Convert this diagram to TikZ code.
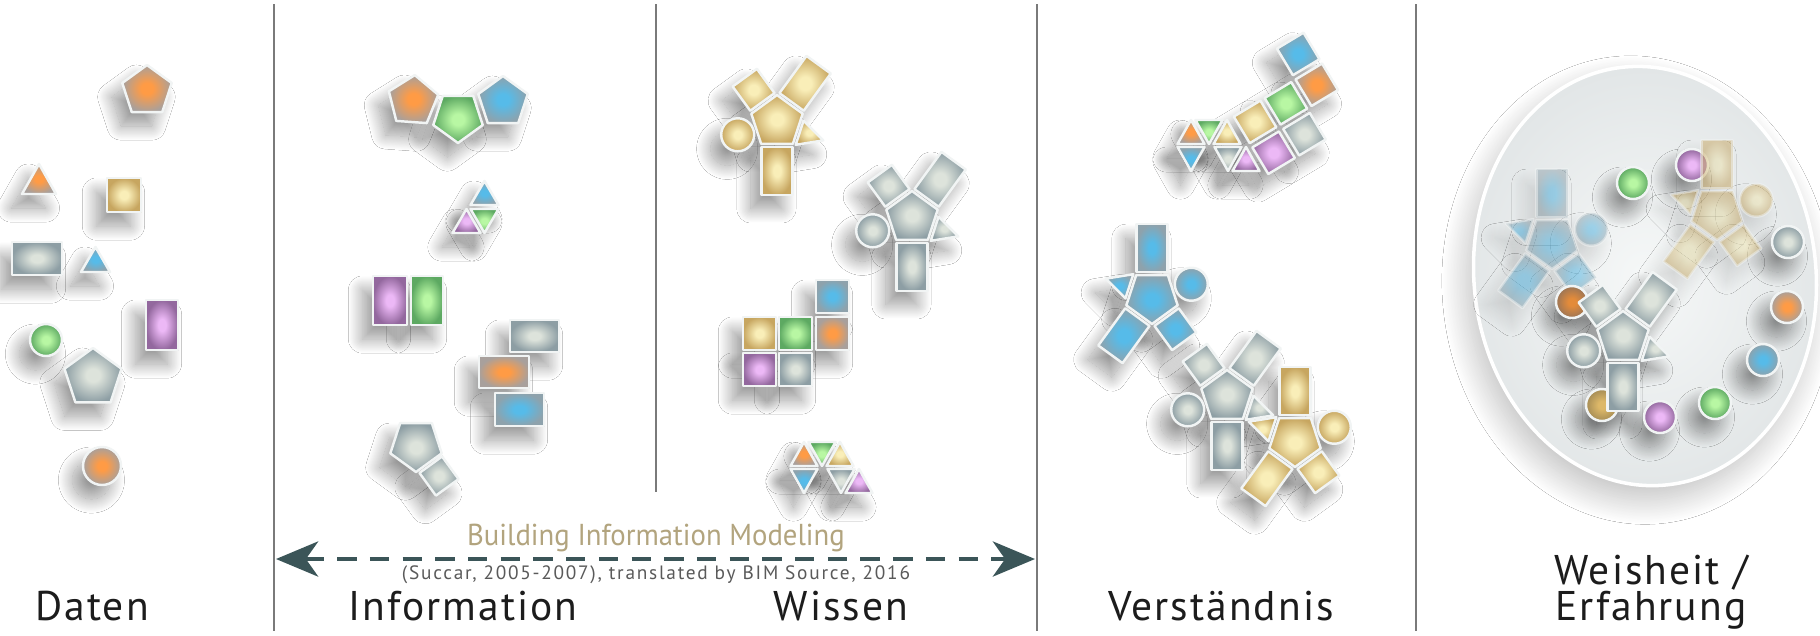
\documentclass[tikz,border=0pt]{standalone}
\usepackage{fontspec}
\usetikzlibrary{shadows.blur,arrows.meta}
\newfontfamily\labfont[LetterSpace=5]{PT Sans}
\newfontfamily\bimfont[FakeStretch=0.95]{PT Sans}
\newfontfamily\capfont[LetterSpace=9]{PT Sans}

% piece colours: centre (In) and rim (Out)
\definecolor{orgIn}{HTML}{FF9B45}\definecolor{orgOut}{HTML}{A8A09C}
\definecolor{bluIn}{HTML}{56BBE9}\definecolor{bluOut}{HTML}{8EA2AC}
\definecolor{grnIn}{HTML}{B8F7A3}\definecolor{grnOut}{HTML}{5DA962}
\definecolor{purIn}{HTML}{ECB8F6}\definecolor{purOut}{HTML}{93689E}
\definecolor{gldIn}{HTML}{F9EEB8}\definecolor{gldOut}{HTML}{C7A660}
\definecolor{gryIn}{HTML}{DDE3DB}\definecolor{gryOut}{HTML}{8D9EA4}
\definecolor{dorIn}{HTML}{E38B3A}\definecolor{dorOut}{HTML}{9B7556}
\definecolor{dgdIn}{HTML}{DDB868}\definecolor{dgdOut}{HTML}{A58C55}
\definecolor{edgeW}{HTML}{F1F4F4}
\definecolor{divider}{HTML}{7A7A7A}
\definecolor{arrowC}{HTML}{3B5558}
\definecolor{bimC}{HTML}{B2A47E}
\definecolor{capC}{HTML}{5A5A5A}
\definecolor{labC}{HTML}{1C1C1C}
\definecolor{plateIn}{HTML}{F6F8F8}
\definecolor{plateOut}{HTML}{E2E6E7}

\colorlet{shIn}{white}\colorlet{shOut}{gray}
\pgfdeclareradialshading[shIn,shOut]{glow}{\pgfpointorigin}{%
  color(0bp)=(shIn); color(6bp)=(shIn); color(25bp)=(shOut); color(50bp)=(shOut)}

\def\shop{40}
\tikzset{
  glow/.style={/utils/exec={\colorlet{shIn}{#1In}\colorlet{shOut}{#1Out}}, shade, shading=glow},
  shadowpass/.style={
    pc/.style={blur shadow={shadow xshift=-3pt, shadow yshift=-4pt,
        shadow blur radius=4pt, shadow blur steps=30, shadow opacity=\shop}},
    fade/.style={/utils/exec={\def\shop{12}}}},
  bodypass/.style={
    pc/.style={draw=edgeW, line width=0.7pt, line join=round, glow=##1},
    fade/.style={opacity=0.5}},
  lab/.style={font=\labfont\fontsize{11.8pt}{10pt}\selectfont, text=labC, inner sep=0pt, anchor=base},
  sep/.style={draw=divider, line width=0.6pt},
}

% rectangle standing on an edge: direction, inner distance, width, length
\newcommand{\edgebox}[5]{%
  \path[#1] (#2:#3) ++({#2+90}:{#4/2}) -- ++(#2:#5) -- ++({#2-90}:#4) -- ++({#2+180}:#5) -- cycle;}

% pentagon figure with its attached pieces
\newcommand{\Yfig}[4][]{%
  \begin{scope}[shift={(#2)}, rotate=#3, yscale=-1]
    \path[#1, pc=#4] (90:27) -- (18:27) -- (-54:27) -- (-126:27) -- (162:27) -- cycle;
    \edgebox{#1, pc=#4}{126}{24.8}{30}{30}
    \edgebox{#1, pc=#4}{54}{24.8}{30}{46}
    \edgebox{#1, pc=#4}{-90}{24.8}{31}{48}
    \path[#1, pc=#4] (2.96:26.6) -- (-50.66:29.5) -- (-21.7:49.7) -- cycle;
    \path[#1, pc=#4] (198:41.3) circle[radius=16.5];
  \end{scope}}

\newcommand{\pent}[4]{%
  \begin{scope}[shift={(#2)}, rotate=#4, yscale=-1]
    \path[pc=#1] (90:#3) -- (18:#3) -- (-54:#3) -- (-126:#3) -- (162:#3) -- cycle;
  \end{scope}}

\newcommand{\tri}[5]{\path[pc=#1] (#2-#5,#3) -- (#2+#5,#3) -- (#2,#4) -- cycle;}
\newcommand{\cellsq}[4]{\path[pc=#1] (#2-#4,#3-#4) rectangle (#2+#4,#3+#4);}
\newcommand{\rsq}[4]{%
  \begin{scope}[shift={(#2)}, rotate=#4]
    \path[pc=#1] (-#3/2,-#3/2) rectangle (#3/2,#3/2);
  \end{scope}}
\newcommand{\triset}[1]{%
  \begin{scope}[shift={(#1)}]
    \tri{org}{0}{0}{-24}{13.5}
    \tri{grn}{18}{-24}{0}{13.5}
    \tri{gld}{36}{0}{-24}{13.5}
    \tri{blu}{0}{3}{27}{13.5}
    \tri{gry}{37}{3}{27}{13.5}
    \tri{pur}{55}{27}{3}{13.5}
  \end{scope}}

\newcommand{\allshapes}{%
  % Daten
  \pent{org}{147,91}{26}{0}
  \tri{org}{39}{194}{164}{17}
  \path[pc=gld] (107,178) rectangle (141,212);
  \path[pc=gry] (12,242) rectangle (62,275);
  \tri{blu}{95.5}{272}{247}{14.5}
  \path[pc=pur] (146,300) rectangle (178,350);
  \path[pc=grn] (46,340) circle[radius=16];
  \pent{gry}{93,378}{30}{0}
  \path[pc=org] (102,466) circle[radius=19];
  % Information
  \pent{org}{413,101}{26}{-4}
  \pent{grn}{458,117}{26}{180}
  \pent{blu}{503,102}{26}{0}
  \tri{blu}{484.5}{205}{181}{14}
  \tri{grn}{484.5}{209}{233}{14}
  \tri{pur}{466.5}{233}{209}{14}
  \path[pc=pur] (373,276) rectangle (407,325);
  \path[pc=grn] (411,276) rectangle (443,325);
  \path[pc=gry] (510,320) rectangle (559,352);
  \path[pc=org] (479,356) rectangle (529,388);
  \path[pc=blu] (495,393) rectangle (544,426);
  \pent{gry}{416,445}{27}{180}
  \rsq{gry}{439,476}{28}{36}
  % Wissen
  \Yfig{777,122}{0}{gld}
  \Yfig{912,218}{0}{gry}
  \cellsq{blu}{832.5}{296.5}{16.5}
  \cellsq{gld}{759.5}{333.5}{16.5}
  \cellsq{grn}{795.5}{333.5}{16.5}
  \cellsq{org}{832.5}{333.5}{16.5}
  \cellsq{pur}{759.5}{369.5}{16.5}
  \cellsq{gry}{795.5}{369.5}{16.5}
  \triset{804,466}
  % Verstaendnis
  \begin{scope}[shift={(1236.5,91)}, rotate=31]
    \cellsq{blu}{72}{0}{15.5}
    \cellsq{gld}{0}{36}{15.5}
    \cellsq{grn}{36}{36}{15.5}
    \cellsq{org}{72}{36}{15.5}
    \cellsq{pur}{0}{72}{15.5}
    \cellsq{gry}{36}{72}{15.5}
  \end{scope}
  \triset{1191,144}
  \Yfig{1152,297}{180}{blu}
  \Yfig{1227,397}{0}{gry}
  \Yfig{1295,440}{180}{gld}
  % Weisheit / Erfahrung
  \path[pc=pur] (1692,165) circle[radius=16];
  \Yfig[fade]{1552,242}{180}{blu}
  \Yfig[fade]{1717,213}{180}{gld}
  \path[pc=dor] (1572,302) circle[radius=16];
  \path[pc=dgd] (1602,405) circle[radius=16];
  \Yfig{1623,338}{0}{gry}
  \path[pc=grn] (1633,183) circle[radius=16];
  \path[pc=gry] (1788,242) circle[radius=16];
  \path[pc=org] (1787,307) circle[radius=16];
  \path[pc=blu] (1763,360) circle[radius=16];
  \path[pc=grn] (1715,403) circle[radius=16];
  \path[pc=pur] (1660,417) circle[radius=16];
}

\begin{document}
\begin{tikzpicture}[x=0.01cm, y=-0.01cm]
  \useasboundingbox (0,0) rectangle (1820,635);
  \fill[white] (0,0) rectangle (1820,635);

  % section dividers
  \draw[sep] (274,4) -- (274,631);
  \draw[sep] (656,4) -- (656,492);
  \draw[sep] (1037,4) -- (1037,631);
  \draw[sep] (1416,4) -- (1416,631);

  % plate behind the last stage
  \begin{scope}[shift={(1645,276)}, rotate=6]
    \shade[inner color=plateIn, outer color=plateOut, draw=white, line width=1pt,
      blur shadow={shadow xshift=-2pt, shadow yshift=-4pt, shadow blur radius=7pt,
        shadow blur steps=40, shadow opacity=25}]
      (0,0) ellipse [x radius=171, y radius=210];
  \end{scope}

  % pieces: all shadows first, then the pieces themselves
  \tikzset{shadowpass}\allshapes
  \tikzset{bodypass}\allshapes

  % BIM span
  \coordinate (aL) at (276,559);
  \coordinate (aR) at (1035,559);
  \draw[arrowC, line width=1.1pt, dash pattern=on 5.5pt off 3.8pt,
    {Stealth[length=12pt,width=10pt,inset=3.5pt]}-{Stealth[length=12pt,width=10pt,inset=3.5pt]}] (aL) -- (aR);
  \node[font=\bimfont\fontsize{8.6pt}{10pt}\selectfont, text=bimC, inner sep=0pt, anchor=base] (bim) at (656,545) {Building Information Modeling};
  \node[font=\capfont\fontsize{5.5pt}{7pt}\selectfont, text=capC, inner sep=0pt, anchor=base] (cap) at (656,579) {(Succar, 2005-2007), translated by BIM Source, 2016};

  % stage labels
  \node[lab] (daten) at (92,620) {Daten};
  \node[lab] (info) at (463,620) {Information};
  \node[lab] (wissen) at (841,620) {Wissen};
  \node[lab] (verst) at (1221,620) {Verständnis};
  \node[lab, align=center] (weis) at (1651,620) {Weisheit /\\Erfahrung};
\end{tikzpicture}
\end{document}
